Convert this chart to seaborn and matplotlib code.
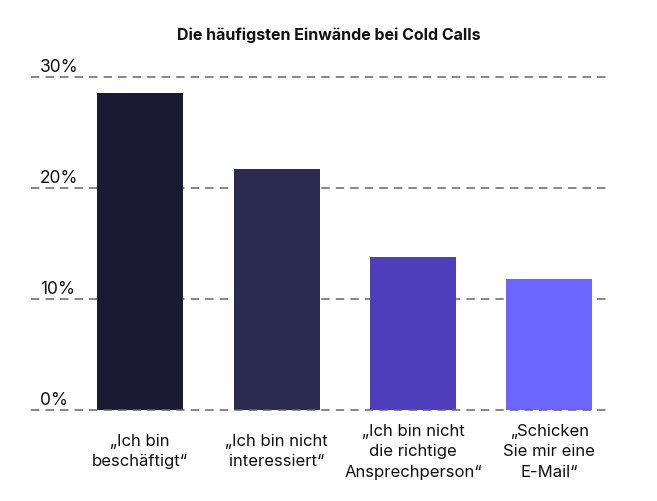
import pandas as pd
import numpy as np
import seaborn as sns
import matplotlib.pyplot as plt

# values (percent)
categories = ["„Ich bin\nbeschäftigt“", "„Ich bin nicht\ninteressiert“",
              "„Ich bin nicht\ndie richtige\nAnsprechperson“", "„Schicken\nSie mir eine\nE-Mail“"]
shares = [28.6, 21.7, 13.8, 11.8]
y_ticks = [0, 10, 20, 30]
bar_colors = ["#1a1a33", "#2b2a50", "#4f3dbb", "#6b66ff"]

sns.set_theme(style="white")
plt.rcParams["font.family"] = ["Inter", "DejaVu Sans"]

df = pd.DataFrame({"label": categories, "share": shares})

fig = plt.figure(figsize=(6.57, 5.01), dpi=100)
ax = fig.add_axes([31 / 657, 91 / 501, 577 / 657, 333 / 501])

sns.barplot(data=df, x="label", y="share", hue="label", palette=bar_colors,
            width=0.63, legend=False, saturation=1, linewidth=0, ax=ax, zorder=1)

ax.set_xlim(-0.8, 3.43)
ax.set_ylim(0, 30)
for v in y_ticks:
    ax.axhline(v, color="#666666", lw=1.1, ls=(0, (5.5, 4)), zorder=0 if v else 2,
               clip_on=False)
    ax.text(0.016, v + 0.1, f"{v}%", transform=ax.get_yaxis_transform(),
            ha="left", va="bottom", fontsize=12.5, color="#111111")

ax.set_yticks([])
ax.set_xlabel("")
ax.set_ylabel("")
ax.tick_params(axis="x", length=0, pad=30)
for lbl in ax.get_xticklabels():
    lbl.set_verticalalignment("center")
    lbl.set_linespacing(1.45)
    lbl.set_fontsize(12)
    lbl.set_color("#111111")
sns.despine(ax=ax, left=True, bottom=True)

fig.text(0.5, 1 - 35 / 501, "Die häufigsten Einwände bei Cold Calls",
         ha="center", va="center", fontsize=11.5, fontweight="bold", color="#111111")

fig.savefig("out.png", dpi=100)
